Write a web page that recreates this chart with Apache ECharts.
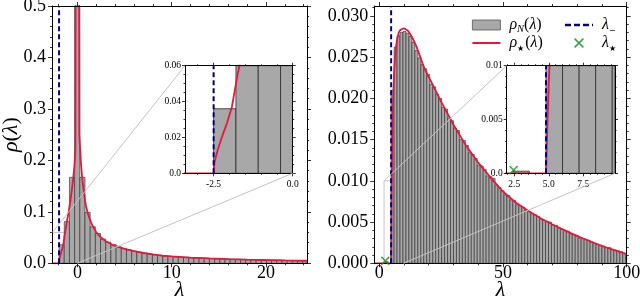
<!DOCTYPE html>
<html><head><meta charset="utf-8">
<script src="https://cdn.jsdelivr.net/npm/echarts@6/dist/echarts.min.js"></script>
<style>html,body{margin:0;padding:0;background:#fff}#c{width:640px;height:300px}</style>
</head><body><div id="c"></div>
<script>
// ---------------- data ----------------
// left panel histogram (bins of equal width starting at leftBinStart)
const leftBinStart = -1.95;
const leftBinWidth = 0.55;
const leftHeights = [0.036, 0.081, 0.167, 0.9, 0.167, 0.099, 0.071, 0.058, 0.047, 0.041,
  0.036, 0.032, 0.029, 0.026, 0.0235, 0.0215, 0.0195, 0.018, 0.0166, 0.0155,
  0.0145, 0.0136, 0.0128, 0.0121, 0.0115, 0.0109, 0.0104, 0.0100, 0.0096, 0.0092,
  0.0089, 0.0086, 0.0083, 0.0080, 0.0077, 0.0074, 0.0072, 0.0069, 0.0067, 0.0065,
  0.0063, 0.0061, 0.0059, 0.0057, 0.0055, 0.0053, 0.0051, 0.0050];
const leftCurveX = [-2.7, -1.95, -1.93, -1.85, -1.75, -1.62, -1.5, -1.36, -1.2, -1.05, -0.9, -0.75, -0.6, -0.45,
  -0.32, -0.22, 0.0, 0.2, 0.35, 0.5, 0.7, 0.9, 1.1, 1.3, 1.6,
  2.0, 2.5, 3.0, 3.5, 4.0, 5.0, 6.0, 7.0, 8.0, 9.0, 10.0, 12.0, 14.0, 16.0, 18.0, 20.0, 22.0, 24.35];
const leftCurveY = [0, 0, 0.006, 0.013, 0.02, 0.028, 0.037, 0.055, 0.072, 0.088, 0.104, 0.122, 0.142, 0.165,
  0.19, 0.22, 3.0, 0.25, 0.2, 0.165, 0.135, 0.112, 0.097, 0.086, 0.073,
  0.060, 0.050, 0.043, 0.038, 0.034, 0.028, 0.0235, 0.020, 0.0172, 0.015, 0.0133, 0.011, 0.0094, 0.0082, 0.0072, 0.0064, 0.0057, 0.0050];
const leftLambdaMinus = -1.95;
const leftInsetXScale = 1.28;   // inset x-axis is drawn in its own (rescaled) units

// right panel histogram
const rightBinStart = 4.8;
const rightBinWidth = 1.2;
const rightHeights = [0.021, 0.0262, 0.0276, 0.0280, 0.0281, 0.0279, 0.0275, 0.0268, 0.0258, 0.0249,
  0.0241, 0.0236, 0.0229, 0.0217, 0.0214, 0.0205, 0.0200, 0.0189, 0.0187, 0.0176,
  0.0173, 0.0164, 0.0161, 0.0150, 0.0149, 0.0143, 0.0134, 0.0132, 0.0127, 0.0119,
  0.0118, 0.0114, 0.0106, 0.0105, 0.0103, 0.0095, 0.0092, 0.0088, 0.0083, 0.0082,
  0.0077, 0.0076, 0.0071, 0.0070, 0.0068, 0.0064, 0.0063, 0.0060, 0.0059, 0.0057,
  0.0053, 0.0052, 0.0051, 0.0050, 0.0046, 0.0046, 0.0043, 0.0041, 0.0040, 0.0039,
  0.0036, 0.0035, 0.0034, 0.0031, 0.0030, 0.0029, 0.0028, 0.0026, 0.0024, 0.0023,
  0.0022, 0.0021, 0.0019, 0.0019, 0.0017, 0.0016, 0.0015, 0.0014, 0.0012, 0.0011];
const rightOutlierBin = [3.6, 2.4, 0.0002]; // [right edge, left edge, height]
const rightCurveX = [-2, 4.8, 4.9, 5.0, 5.15, 5.3, 5.5, 5.7, 6.0, 6.4, 6.8, 7.3, 7.9, 8.5, 9.2, 10.0, 10.8, 11.6,
  12.5, 13.5, 15.0, 16.6, 18.0, 20, 25, 30, 35, 40, 45, 50, 55, 60, 65, 70, 75, 80, 85, 90, 95, 100];
const rightCurveY = [0, 0, 0.0045, 0.0085, 0.0125, 0.0155, 0.0185, 0.0207, 0.0230, 0.0250, 0.0263, 0.0273, 0.0280, 0.0283, 0.0285, 0.0285, 0.0284, 0.0282,
  0.0278, 0.0273, 0.0263, 0.0250, 0.0238, 0.0226, 0.0196, 0.0168, 0.0143, 0.0122, 0.0104, 0.0087, 0.0074, 0.0064, 0.0055, 0.0047, 0.0040, 0.0033, 0.0027, 0.0021, 0.0016, 0.0011];
const rightLambdaMinus = 4.8;
const rightLambdaStar = [2.45, 0.0003];

// axis ranges and tick labels
const leftXRange = [-2.7, 24.35], leftYRange = [0, 0.5];
const leftXTicks = [0, 10, 20], leftXLabels = ['0', '10', '20'];
const leftYTicks = [0, 0.1, 0.2, 0.3, 0.4, 0.5], leftYLabels = ['0.0', '0.1', '0.2', '0.3', '0.4', '0.5'];
const leftInsetXRange = [-3.4, 0], leftInsetYRange = [0, 0.06];
const leftInsetXTicks = [-2.5, 0], leftInsetXLabels = ['-2.5', '0.0'];
const leftInsetYTicks = [0, 0.02, 0.04, 0.06], leftInsetYLabels = ['0.0', '0.02', '0.04', '0.06'];
const rightXRange = [-2, 100], rightYRange = [0, 0.0312];
const rightXTicks = [0, 50, 100], rightXLabels = ['0', '50', '100'];
const rightYTicks = [0, 0.005, 0.01, 0.015, 0.02, 0.025, 0.03], rightYLabels = ['0.000', '0.005', '0.010', '0.015', '0.020', '0.025', '0.030'];
const rightInsetXRange = [1.95, 9.8], rightInsetYRange = [0, 0.01];
const rightInsetXTicks = [2.5, 5, 7.5], rightInsetXLabels = ['2.5', '5.0', '7.5'];
const rightInsetYTicks = [0, 0.005, 0.01], rightInsetYLabels = ['0.0', '0.005', '0.01'];

// ---------------- helpers ----------------
const FONT = '"Liberation Serif", "Times New Roman", serif';
function steps(a, b, s) { const r = []; for (let v = a; v <= b + 1e-9; v += s) r.push(+v.toFixed(6)); return r; }
function minorsOf(range, step, majors) {
  const start = Math.ceil(range[0] / step - 1e-9) * step;
  return steps(start, range[1], step).filter(v => !majors.some(m => Math.abs(m - v) < 1e-9));
}
const xAxes = [], yAxes = [];
function buildAxes(g, dim, spec) {
  const list = dim === 'x' ? xAxes : yAxes;
  const sides = dim === 'x' ? ['bottom', 'top'] : ['left', 'right'];
  const first = list.length;
  sides.forEach((pos, si) => {
    [spec.major, spec.minor].forEach((vals, mi) => {
      const ax = {
        type: 'value', gridIndex: g, position: pos, min: spec.range[0], max: spec.range[1],
        axisLine: { show: mi === 0, onZero: false, lineStyle: { color: '#000', width: 1 } },
        axisTick: { show: true, customValues: vals, inside: false, length: mi === 0 ? spec.majorLen : spec.minorLen,
          lineStyle: { color: '#000', width: 0.8 } },
        axisLabel: { show: si === 0 && mi === 0, customValues: spec.major, color: '#000', fontFamily: FONT,
          fontSize: spec.fontSize, margin: spec.margin, hideOverlap: false,
          formatter: v => { const i = spec.major.findIndex(m => Math.abs(m - v) < 1e-9); return i >= 0 ? spec.labels[i] : ''; } },
        splitLine: { show: false }, z: 5, nameMoveOverlap: false
      };
      if (si === 0 && mi === 0 && spec.name) Object.assign(ax, spec.name);
      list.push(ax);
    });
  });
  return first;
}
const lambdaName = { name: '{i|λ}', nameLocation: 'middle', nameGap: 16,
  nameTextStyle: { rich: { i: { fontFamily: FONT, fontStyle: 'italic', fontSize: 22, color: '#000' } } } };
const rhoName = { name: '{i|ρ}{n|(}{i|λ}{n|)}', nameLocation: 'middle', nameGap: 30,
  nameTextStyle: { rich: { i: { fontFamily: FONT, fontStyle: 'italic', fontSize: 22, color: '#000' },
                           n: { fontFamily: FONT, fontSize: 22, color: '#000' } } } };

const grids = [
  { left: 52, top: 6, width: 255, height: 257.3 },
  { left: 185, top: 65.7, width: 107.7, height: 107.6 },
  { left: 374.3, top: 6, width: 252.4, height: 257.3 },
  { left: 506.7, top: 65.7, width: 108.3, height: 107.6 }
].map(g => Object.assign(g, { show: true, backgroundColor: '#fff', borderWidth: 0, containLabel: false, outerBoundsMode: 'none' }));

const ax = {};
ax.x0 = buildAxes(0, 'x', { range: leftXRange, major: leftXTicks, labels: leftXLabels, minor: minorsOf(leftXRange, 2, leftXTicks), majorLen: 4, minorLen: 2, fontSize: 18, margin: 1, name: lambdaName });
ax.y0 = buildAxes(0, 'y', { range: leftYRange, major: leftYTicks, labels: leftYLabels, minor: minorsOf(leftYRange, 0.02, leftYTicks), majorLen: 4, minorLen: 2, fontSize: 18, margin: 6, name: rhoName });
ax.x1 = buildAxes(1, 'x', { range: leftInsetXRange, major: leftInsetXTicks, labels: leftInsetXLabels, minor: minorsOf(leftInsetXRange, 0.5, leftInsetXTicks), majorLen: 3, minorLen: 1.5, fontSize: 9.5, margin: 6 });
ax.y1 = buildAxes(1, 'y', { range: leftInsetYRange, major: leftInsetYTicks, labels: leftInsetYLabels, minor: minorsOf(leftInsetYRange, 0.005, leftInsetYTicks), majorLen: 3, minorLen: 1.5, fontSize: 9.5, margin: 4 });
ax.x2 = buildAxes(2, 'x', { range: rightXRange, major: rightXTicks, labels: rightXLabels, minor: minorsOf(rightXRange, 10, rightXTicks), majorLen: 4, minorLen: 2, fontSize: 18, margin: 1, name: lambdaName });
ax.y2 = buildAxes(2, 'y', { range: rightYRange, major: rightYTicks, labels: rightYLabels, minor: minorsOf(rightYRange, 0.001, rightYTicks), majorLen: 4, minorLen: 2, fontSize: 18, margin: 6 });
ax.x3 = buildAxes(3, 'x', { range: rightInsetXRange, major: rightInsetXTicks, labels: rightInsetXLabels, minor: minorsOf(rightInsetXRange, 0.5, rightInsetXTicks), majorLen: 3, minorLen: 1.5, fontSize: 9.5, margin: 6 });
ax.y3 = buildAxes(3, 'y', { range: rightInsetYRange, major: rightInsetYTicks, labels: rightInsetYLabels, minor: minorsOf(rightInsetYRange, 0.001, rightInsetYTicks), majorLen: 3, minorLen: 1.5, fontSize: 9.5, margin: 4 });

// series data
const binsOf = (start, w, hs, scale) => hs.map((h, k) => [(start + k * w) * scale, (start + (k + 1) * w) * scale, h]);
const leftBins = binsOf(leftBinStart, leftBinWidth, leftHeights, 1);
const leftInsetBins = binsOf(leftBinStart, leftBinWidth, leftHeights, leftInsetXScale);
const rightBins = [[rightOutlierBin[1], rightOutlierBin[0], rightOutlierBin[2]]].concat(binsOf(rightBinStart, rightBinWidth, rightHeights, 1));
const leftCurve = leftCurveX.map((x, i) => [x, leftCurveY[i]]);
const leftInsetCurve = leftCurveX.map((x, i) => [x * leftInsetXScale, leftCurveY[i]]);
const rightCurve = rightCurveX.map((x, i) => [x, rightCurveY[i]]);

const BAR = '#a8a8a8', EDGE = '#2a2a2a', RED = '#e5173f', NAVY = '#00007f', GREEN = '#1a8c1a';
function histRender(params, api, lw) {
  const p0 = api.coord([api.value(0), 0]);
  const p1 = api.coord([api.value(1), api.value(2)]);
  const cs = params.coordSys;
  const r = echarts.graphic.clipRectByRect(
    { x: p0[0], y: p1[1], width: p1[0] - p0[0], height: p0[1] - p1[1] },
    { x: cs.x, y: cs.y, width: cs.width, height: cs.height });
  if (!r) return null;
  return { type: 'rect', shape: r, style: { fill: BAR, stroke: EDGE, lineWidth: lw } };
}
function hist(name, data, xi, yi, lw) {
  return { type: 'custom', name, data, xAxisIndex: xi, yAxisIndex: yi, clip: true, z: 2,
    renderItem: (p, api) => histRender(p, api, lw), itemStyle: { color: BAR },
    encode: { x: [0, 1], y: 2 }, silent: true };
}
function curve(data, xi, yi) {
  return { type: 'line', name: 'rhoStar', data, xAxisIndex: xi, yAxisIndex: yi, symbol: 'none', clip: true, z: 3,
    lineStyle: { color: RED, width: 1.8 }, itemStyle: { color: RED }, silent: true };
}
function vline(x, range, xi, yi) {
  return { type: 'line', name: 'lamMinus', data: [[x, range[0]], [x, range[1]]], xAxisIndex: xi, yAxisIndex: yi,
    symbol: 'none', clip: true, z: 4, lineStyle: { color: NAVY, width: 2, type: [5, 3] }, itemStyle: { color: NAVY }, silent: true };
}
const XPATH = 'path://M0,1.2L1.2,0L10,8.8L8.8,10Z M8.8,0L10,1.2L1.2,10L0,8.8Z';
function star(xi, yi) {
  return { type: 'scatter', name: 'lamStar', data: [rightLambdaStar], xAxisIndex: xi, yAxisIndex: yi,
    symbol: XPATH, symbolSize: 9, itemStyle: { color: GREEN }, z: 6, silent: true, clip: false };
}

const series = [
  hist('rhoN', leftBins, ax.x0, ax.y0, 0.6),
  curve(leftCurve, ax.x0, ax.y0),
  vline(leftLambdaMinus, leftYRange, ax.x0, ax.y0),
  hist('rhoN', leftInsetBins, ax.x1, ax.y1, 0.8),
  curve(leftInsetCurve, ax.x1, ax.y1),
  vline(leftLambdaMinus * leftInsetXScale, leftInsetYRange, ax.x1, ax.y1),
  hist('rhoN', rightBins, ax.x2, ax.y2, 0.6),
  curve(rightCurve, ax.x2, ax.y2),
  vline(rightLambdaMinus, rightYRange, ax.x2, ax.y2),
  star(ax.x2, ax.y2),
  hist('rhoN', rightBins, ax.x3, ax.y3, 0.8),
  curve(rightCurve, ax.x3, ax.y3),
  vline(rightLambdaMinus, rightInsetYRange, ax.x3, ax.y3),
  star(ax.x3, ax.y3)
];

const SUBFONT = '"DejaVu Sans", sans-serif';
const legendRich = {
  i: { fontFamily: FONT, fontStyle: 'italic', fontSize: 16, lineHeight: 20, color: '#000' },
  p: { fontFamily: FONT, fontStyle: 'italic', fontSize: 16, lineHeight: 20, color: '#000', padding: [0, 0, 0, 4] },
  n: { fontFamily: FONT, fontSize: 16, lineHeight: 20, color: '#000' },
  s: { fontFamily: FONT, fontStyle: 'italic', fontSize: 10.5, lineHeight: 11, verticalAlign: 'bottom', color: '#000' },
  t: { fontFamily: SUBFONT, fontSize: 8, lineHeight: 10, verticalAlign: 'bottom', color: '#000', padding: [0, 1, 0, 0] }
};
const legendText = {
  rhoN: '{p|ρ}{s|N}{n|(}{i|λ}{n|)}',
  rhoStar: '{p|ρ}{t|★}{n|(}{i|λ}{n|)}',
  lamMinus: '{p|λ}{t|−}',
  lamStar: '{p|λ}{t|★}'
};
const LINEICON = 'path://M0,0H28V2H0Z';
const DASHICON = 'path://M0,0H6V2.4H0Z M9,0H15V2.4H9Z M18,0H24V2.4H18Z M27,0H28V2.4H27Z';
const legendBase = { orient: 'vertical', itemWidth: 28, itemHeight: 10, itemGap: 0, selectedMode: false,
  formatter: n => legendText[n], textStyle: { rich: legendRich } };

const chart = echarts.init(document.getElementById('c'), null, { renderer: 'canvas' });
chart.setOption({
  animation: false,
  grid: grids,
  xAxis: xAxes,
  yAxis: yAxes,
  legend: [
    Object.assign({}, legendBase, { left: 467, top: 12, data: [
      { name: 'rhoN', icon: 'rect', itemStyle: { color: BAR, borderColor: '#555', borderWidth: 0.8 } },
      { name: 'rhoStar', icon: LINEICON, itemStyle: { color: RED } }] }),
    Object.assign({}, legendBase, { left: 560, top: 12, data: [
      { name: 'lamMinus', icon: DASHICON, itemStyle: { color: NAVY } },
      { name: 'lamStar' }] })
  ],
  series
});

// inset indicator rectangles and connector lines
function px(xi, yi, p) { return chart.convertToPixel({ xAxisIndex: xi, yAxisIndex: yi }, p); }
function insetGraphics(mx, my, ix, iy, xr, yr, scale, mainX) {
  const x0 = Math.max(xr[0] / scale, mainX[0]);
  const a = px(mx, my, [x0, yr[1]]), b = px(mx, my, [xr[1] / scale, yr[0]]);
  const c = px(ix, iy, [xr[0], yr[1]]), d = px(ix, iy, [xr[1], yr[0]]);
  const st = { stroke: '#c4c4c4', lineWidth: 1, fill: null };
  return [
    { type: 'rect', shape: { x: a[0], y: a[1], width: b[0] - a[0], height: b[1] - a[1] }, style: st, z: 1, silent: true },
    { type: 'line', shape: { x1: a[0], y1: a[1], x2: c[0], y2: c[1] }, style: st, z: 100, silent: true },
    { type: 'line', shape: { x1: b[0], y1: b[1], x2: d[0], y2: d[1] }, style: st, z: 100, silent: true }
  ];
}
chart.setOption({
  graphic: [].concat(
    insetGraphics(ax.x0, ax.y0, ax.x1, ax.y1, leftInsetXRange, leftInsetYRange, leftInsetXScale, leftXRange),
    insetGraphics(ax.x2, ax.y2, ax.x3, ax.y3, rightInsetXRange, rightInsetYRange, 1, rightXRange))
});
</script></body></html>
